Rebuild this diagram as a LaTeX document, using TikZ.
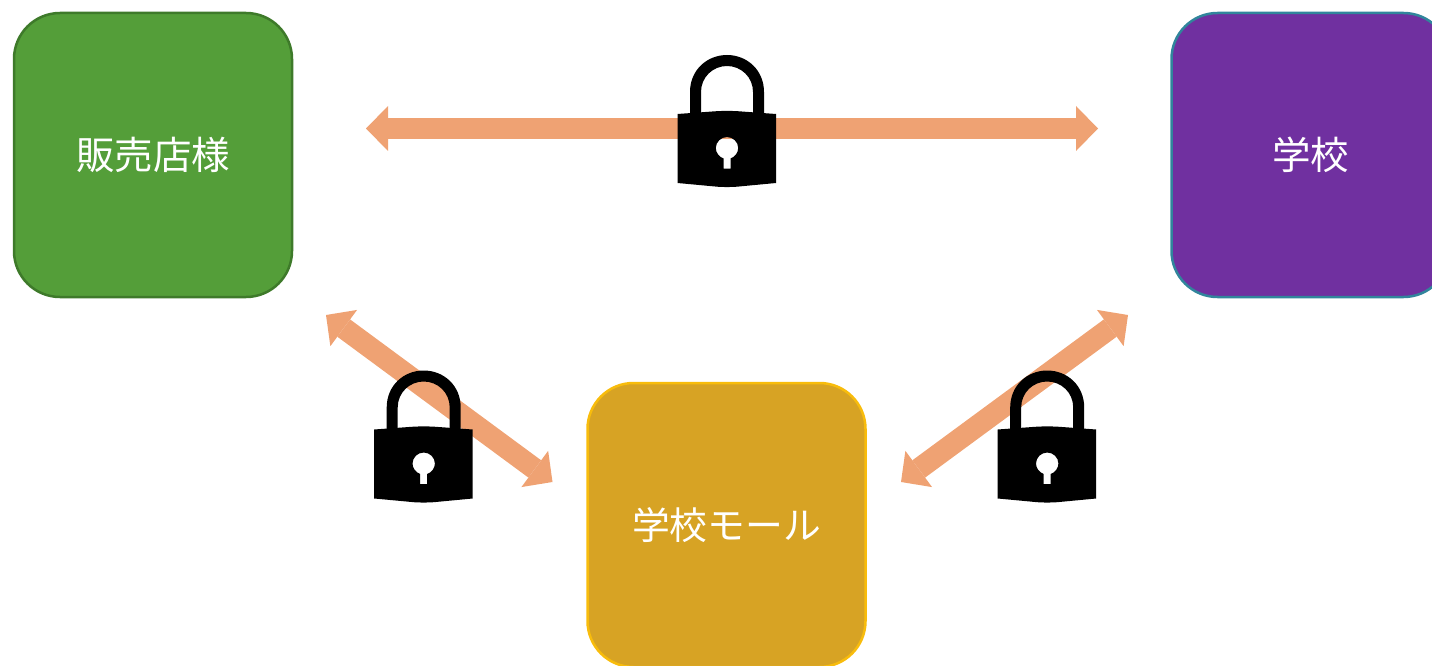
\documentclass[tikz,border=0pt]{standalone}
\usepackage{fontspec}
\setmainfont{Noto Sans CJK JP}
\usetikzlibrary{arrows.meta}
\definecolor{arrowcol}{HTML}{EFA273}
\definecolor{greenfill}{HTML}{549E39}
\definecolor{greenline}{HTML}{3E7A2A}
\definecolor{purplefill}{HTML}{7030A0}
\definecolor{purpleline}{HTML}{31859C}
\definecolor{yellowfill}{HTML}{D7A324}
\definecolor{yellowline}{HTML}{F8BC0C}
\tikzset{
  x=1pt,y=-1pt,
  roundbox/.style={rectangle,rounded corners=46pt,minimum width=278pt,minimum height=284pt,
    inner sep=0pt,line width=2.5pt,text=white,font=\fontsize{38.5}{41}\selectfont},
  dblarrow/.style={draw=arrowcol,line width=21.5pt,
    {Triangle[width=45pt,length=22pt,line width=0pt]}-{Triangle[width=45pt,length=22pt,line width=0pt]}},
  padlock/.pic={
    \fill[black,even odd rule]
      (-49.5,-7) -- (-12,-9.7) .. controls (-6,-10.2) and (6,-10.2) .. (12,-9.7) -- (49,-7)
      -- (49,62) -- (12,65.5) .. controls (6,66.2) and (-6,66.2) .. (-12,65.5) -- (-49.5,62) -- cycle
      (-3.5,47.5) -- (3.5,47.5) -- (3.5,37.5) .. controls (8,36) and (11.2,31.5) .. (11.2,27)
      .. controls (11.2,21) and (6,16) .. (0,16)
      .. controls (-6,16) and (-11.2,21) .. (-11.2,27)
      .. controls (-11.2,31.5) and (-8,36) .. (-3.5,37.5) -- cycle;
    \fill[black,even odd rule]
      (-37,-7) -- (-37,-29) .. controls (-37,-51) and (-20,-66) .. (0,-66)
      .. controls (20,-66) and (37,-51) .. (37,-29) -- (37,-7) -- (26,-8) -- (26,-29)
      .. controls (26,-44) and (14,-55) .. (0,-55)
      .. controls (-14,-55) and (-26,-44) .. (-26,-29) -- (-26,-8) -- cycle;
  }
}
\begin{document}
\begin{tikzpicture}
\useasboundingbox (0,0) rectangle (1432,666);
\clip (0,0) rectangle (1432,666);
\node[roundbox,fill=greenfill,draw=greenline] (shop) at (153,155) {販売店様};
\node[roundbox,fill=purplefill,draw=purpleline] (school) at (1310.5,155) {学校};
\node[roundbox,fill=yellowfill,draw=yellowline,font=\fontsize{37.8}{41}\selectfont] (mall) at (726.5,525) {学校モール};
\coordinate (topL) at (366,128.5);
\coordinate (topR) at (1098,128.5);
\coordinate (leftA) at (326,315);
\coordinate (leftB) at (552.5,482);
\coordinate (rightA) at (1128,315);
\coordinate (rightB) at (901,482);
\draw[dblarrow] (topL) -- (topR);
\draw[dblarrow] (leftA) -- (leftB);
\draw[dblarrow] (rightA) -- (rightB);
\pic (lockTop) at (727,121) {padlock};
\pic (lockLeft) at (423.7,436.5) {padlock};
\pic (lockRight) at (1047.2,436.5) {padlock};
\end{tikzpicture}
\end{document}
